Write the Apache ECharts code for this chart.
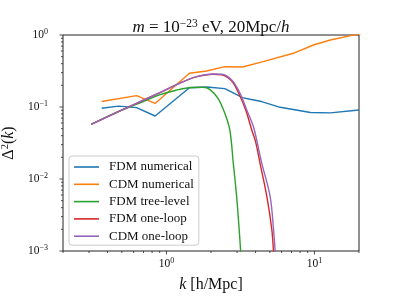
<!DOCTYPE html>
<html><head><meta charset="utf-8">
<script src="https://cdn.jsdelivr.net/npm/echarts@6/dist/echarts.min.js"></script>
<style>html,body{margin:0;padding:0;background:#fff}#c{width:399px;height:299px}</style>
</head><body><div id="c"></div>
<script>
// ---- data ----
const seriesNames = ['FDM numerical','CDM numerical','FDM tree-level','FDM one-loop','CDM one-loop'];
const seriesColors = ['#1f77b4','#ff7f0e','#2ca02c','#d62728','#9467bd'];
const seriesSmooth = [false,false,0.35,0.35,0.35];

const kFDMnum = [0.365,0.474,0.628,0.838,1.43,1.87,2.48,3.27,3.67,4.4,5.87,9.4,12.8,20];
const dFDMnum = [0.096,0.103,0.098,0.075,0.185,0.19,0.18,0.135,0.128,0.119,0.099,0.084,0.083,0.091];

const kCDMnum = [0.365,0.628,0.838,1.43,1.87,2.48,3.27,4.5,7.2,9.84,12.8,17.6,20.5];
const dCDMnum = [0.119,0.144,0.112,0.294,0.316,0.363,0.359,0.426,0.557,0.726,0.852,0.98,1.04];

const kFDMtree = [0.31,0.45,0.6,0.75,0.896,1.16,1.47,1.77,1.96,2.23,2.48,2.68,2.83,2.98,3.1,3.17,3.22];
const dFDMtree = [0.0575,0.083,0.105,0.127,0.147,0.171,0.187,0.188,0.176,0.132,0.082,0.048,0.0165,0.0057,0.002,0.001,0.0006];

const kFDMloop = [0.31,0.6,0.896,1.225,1.59,2.06,2.36,2.76,3.1,3.45,3.77,4.0,4.29,4.77,5.15,5.29,5.4];
const dFDMloop = [0.0575,0.108,0.157,0.213,0.262,0.285,0.281,0.23,0.15,0.088,0.048,0.033,0.0165,0.0057,0.002,0.001,0.0006];

const kCDMloop = [0.31,0.6,0.896,1.225,1.59,2.06,2.36,2.76,3.14,3.49,3.87,4.07,4.41,5.02,5.29,5.43,5.55];
const dCDMloop = [0.0575,0.108,0.157,0.213,0.264,0.287,0.285,0.237,0.155,0.091,0.0533,0.0348,0.0165,0.0057,0.002,0.001,0.0006];

const xMajorTicks = [1,10];
const xMinorTicks = [0.2,0.3,0.4,0.5,0.6,0.7,0.8,0.9,2,3,4,5,6,7,8,9,20];
const yMajorTicks = [0.001,0.01,0.1,1];
const yMinorTicks = [0.002,0.003,0.004,0.005,0.006,0.007,0.008,0.009,0.02,0.03,0.04,0.05,0.06,0.07,0.08,0.09,0.2,0.3,0.4,0.5,0.6,0.7,0.8,0.9];

const xMin = 0.2, xMax = 20, yMin = 0.001, yMax = 1;
// ---------------

const FONT = '"Liberation Serif", "DejaVu Serif", serif';
const zip = (a,b)=>a.map((v,i)=>[v,b[i]]);
const allK = [kFDMnum,kCDMnum,kFDMtree,kFDMloop,kCDMloop];
const allD = [dFDMnum,dCDMnum,dFDMtree,dFDMloop,dCDMloop];

function powLabel(v){
  const e = Math.log10(v);
  const r = Math.round(e);
  if (Math.abs(e-r) > 1e-6) return '';
  return '{b|10}{s|' + (r<0 ? '\u2212'+(-r) : r) + '}';
}
const labelRich = {
  b:{fontFamily:FONT,fontSize:11.5,color:'#111'},
  s:{fontFamily:FONT,fontSize:8,color:'#111',verticalAlign:'bottom',padding:[0,0,6,0]}
};

function tickSeries(vals, axis, len){
  return {
    type:'custom', silent:true, clip:false, z:10,
    data: vals.map(v => axis==='x' ? [v,yMin] : [xMin,v]),
    renderItem:(params, api)=>{
      const p = api.coord([api.value(0), api.value(1)]);
      const shape = axis==='x'
        ? {x1:p[0],y1:p[1],x2:p[0],y2:p[1]+len}
        : {x1:p[0],y1:p[1],x2:p[0]-len,y2:p[1]};
      return {type:'line', shape, style:{stroke:'#222', lineWidth:0.8}};
    }
  };
}

const chart = echarts.init(document.getElementById('c'), null, {renderer:'canvas'});
const lineSeries = seriesNames.map((n,i)=>({
  name:n, type:'line', showSymbol:false, symbol:'none', clip:true,
  smooth:seriesSmooth[i],
  data: zip(allK[i], allD[i]),
  lineStyle:{color:seriesColors[i], width:1.4},
  itemStyle:{color:seriesColors[i]},
  emphasis:{disabled:true}, z:2+i
}));

chart.setOption({
  animation:false,
  backgroundColor:'#fff',
  title:{
    text:'{i|m} = 10{s|\u221223} eV, 20Mpc/{i|h}',
    left:206, top:13, textAlign:'center',
    textStyle:{
      fontFamily:FONT, fontSize:17, fontWeight:'normal', color:'#111',
      rich:{
        i:{fontFamily:FONT,fontSize:17,fontStyle:'italic',color:'#111'},
        s:{fontFamily:FONT,fontSize:11.5,color:'#111',verticalAlign:'bottom',padding:[0,0,8,0]}
      }
    }
  },
  grid:{left:63, right:40, top:35, bottom:48, containLabel:false, outerBoundsMode:'none',
        show:true, borderColor:'#222', borderWidth:1, backgroundColor:'transparent'},
  xAxis:{
    type:'log', logBase:10, min:xMin, max:xMax,
    axisLine:{show:false}, axisTick:{show:false}, splitLine:{show:false},
    axisLabel:{formatter:powLabel, rich:labelRich, margin:6, showMinLabel:false, showMaxLabel:false},
    name:'{i|k} [h/Mpc]', nameLocation:'middle', nameGap:26,
    nameTextStyle:{fontFamily:FONT, fontSize:16, color:'#111', rich:{i:{fontFamily:FONT,fontSize:16,fontStyle:'italic',color:'#111'}}}
  },
  yAxis:{
    type:'log', logBase:10, min:yMin, max:yMax,
    axisLine:{show:false}, axisTick:{show:false}, splitLine:{show:false},
    axisLabel:{formatter:powLabel, rich:labelRich, margin:15},
    name:'\u0394{s|2}({i|k})', nameLocation:'middle', nameGap:40, nameRotate:90,
    nameTextStyle:{fontFamily:FONT, fontSize:16, color:'#111',
      rich:{i:{fontFamily:FONT,fontSize:16,fontStyle:'italic',color:'#111'},
            s:{fontFamily:FONT,fontSize:10.5,color:'#111',verticalAlign:'bottom',padding:[0,0,7,0]}}}
  },
  legend:{
    data:seriesNames, orient:'vertical', left:69, top:156,
    icon:'rect', itemWidth:25, itemHeight:1.6, itemGap:3.3,
    padding:[4,5,2,5],
    backgroundColor:'rgba(255,255,255,0.85)', borderColor:'#cccccc', borderWidth:1, borderRadius:3,
    textStyle:{fontFamily:FONT, fontSize:13, color:'#111', padding:[0,0,0,5], lineHeight:14},
    selectedMode:false
  },
  series:[
    ...lineSeries,
    tickSeries(xMajorTicks,'x',3.5),
    tickSeries(xMinorTicks,'x',2),
    tickSeries(yMajorTicks,'y',3.5),
    tickSeries(yMinorTicks,'y',2)
  ]
});
</script></body></html>
